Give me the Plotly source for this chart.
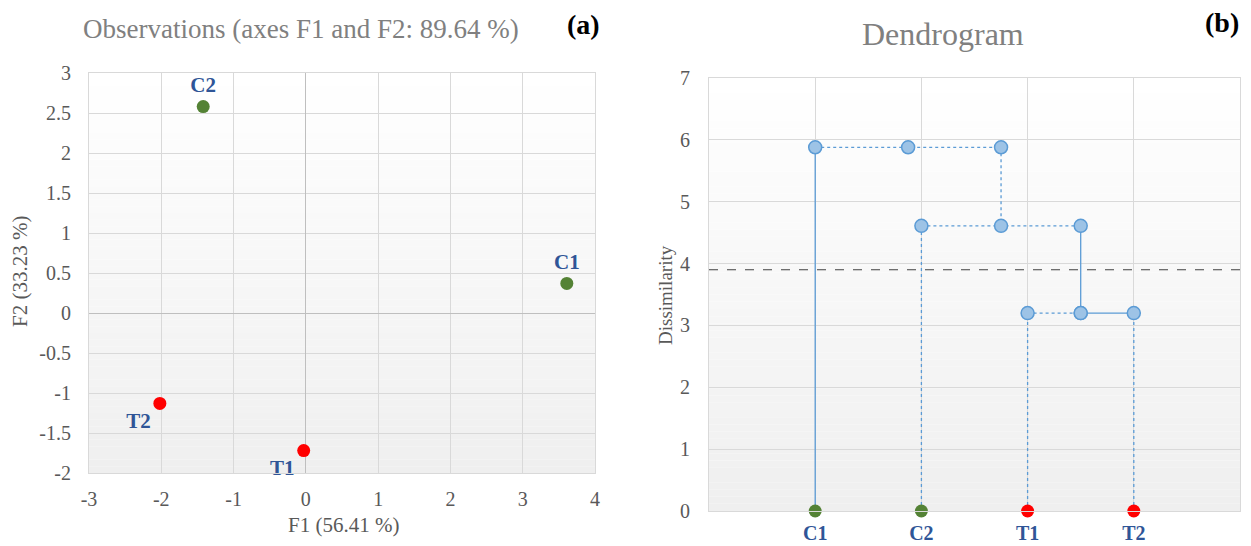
import plotly.graph_objects as go

# ---------------- data ----------------
obs_names = ["C1", "C2", "T1", "T2"]
obs_f1 = [3.61, -1.42, -0.03, -2.02]
obs_f2 = [0.37, 2.58, -1.72, -1.13]
obs_group = ["C", "C", "T", "T"]

leaf_names = ["C1", "C2", "T1", "T2"]
leaf_pos = [1, 2, 3, 4]
merge_t1t2 = 3.20
merge_c2 = 4.61
merge_c1 = 5.88
threshold = 3.90

f1_ticks = [-3, -2, -1, 0, 1, 2, 3, 4]
f1_ticktext = ["-3", "-2", "-1", "0", "1", "2", "3", "4"]
f2_ticks = [-2, -1.5, -1, -0.5, 0, 0.5, 1, 1.5, 2, 2.5, 3]
f2_ticktext = ["-2", "-1.5", "-1", "-0.5", "0", "0.5", "1", "1.5", "2", "2.5", "3"]
dis_ticks = [0, 1, 2, 3, 4, 5, 6, 7]

# ---------------- styles ----------------
SERIF = "Times New Roman, Liberation Serif, Tinos, DejaVu Serif, serif"
GREEN = "#548235"
RED = "#FF0000"
LBLUE = "#2F5597"
LINE = "#5B9BD5"
MFILL = "#9DC3E6"
GRID = "#D9D9D9"
TICK = "#595959"
col = {"C": GREEN, "T": RED}

fig = go.Figure()

# ---------- (a) scatter ----------
pos_map = {"C1": "top center", "C2": "top center", "T1": "bottom left", "T2": "bottom left"}
for g in ["C", "T"]:
    idx = [i for i, v in enumerate(obs_group) if v == g]
    fig.add_trace(go.Scatter(
        x=[obs_f1[i] for i in idx], y=[obs_f2[i] for i in idx],
        mode="markers+text",
        text=[obs_names[i] for i in idx],
        textposition=[pos_map[obs_names[i]] for i in idx],
        textfont=dict(family=SERIF, size=21, color=LBLUE, weight="bold"),
        marker=dict(color=col[g], size=13),
        xaxis="x", yaxis="y", showlegend=False, cliponaxis=False))

# ---------- (b) dendrogram ----------
p1, p2, p3, p4 = leaf_pos
n_t = (p3 + p4) / 2
n_c2 = (p2 + n_t) / 2
n_c1 = (p1 + n_c2) / 2

def seg(xs, ys, dash, markers):
    fig.add_trace(go.Scatter(
        x=xs, y=ys, mode="lines+markers" if markers else "lines",
        line=dict(color=LINE, width=1.3, dash=dash),
        marker=dict(size=13, color=MFILL, line=dict(color=LINE, width=1.5)),
        xaxis="x2", yaxis="y2", showlegend=False, cliponaxis=False))

seg([p1, p1], [0, merge_c1], "solid", False)
seg([p2, p2], [0, merge_c2], "dot", False)
seg([p3, p3], [0, merge_t1t2], "dot", False)
seg([p4, p4], [0, merge_t1t2], "dot", False)
seg([n_c2, n_c2], [merge_c1, merge_c2], "dot", False)
seg([n_t, n_t], [merge_c2, merge_t1t2], "solid", False)
seg([p1, n_c1, n_c2], [merge_c1] * 3, "dot", True)
seg([p2, n_c2, n_t], [merge_c2] * 3, "dot", True)
seg([p3, n_t], [merge_t1t2] * 2, "dot", True)
seg([n_t, p4], [merge_t1t2] * 2, "solid", True)

fig.add_trace(go.Scatter(
    x=[0, 5], y=[threshold, threshold], mode="lines",
    line=dict(color="#404040", width=1.2, dash="dash"),
    xaxis="x2", yaxis="y2", showlegend=False, cliponaxis=False))

fig.add_trace(go.Scatter(
    x=leaf_pos, y=[0] * len(leaf_pos), mode="markers",
    marker=dict(size=13, color=[col[n[0]] for n in leaf_names]),
    xaxis="x2", yaxis="y2", showlegend=False, cliponaxis=False))

# ---------- gradient backgrounds ----------
shapes = []
N = 60
for ax in ["", "2"]:
    for k in range(N):
        t = (k + 0.5) / N
        v = int(round(239 + (255 - 239) * t))
        shapes.append(dict(type="rect", xref=f"x{ax} domain", yref=f"y{ax} domain",
                           x0=0, x1=1, y0=k / N, y1=(k + 1) / N,
                           fillcolor=f"rgb({v},{v},{v})", line=dict(width=0),
                           layer="below"))

def axis_common(size=20, color=TICK):
    return dict(showgrid=True, gridcolor=GRID, gridwidth=1, showline=True,
                linecolor=GRID, linewidth=1, mirror=True, ticks="", automargin=False,
                tickfont=dict(family=SERIF, size=size, color=color))

W, H = 1251, 546

def ann(text, x, y, size, color, angle=0):
    return dict(text=text, x=x / W, y=1 - y / H, xref="paper", yref="paper",
                xanchor="center", yanchor="middle", showarrow=False, textangle=angle,
                font=dict(family=SERIF, size=size, color=color))

fig.update_layout(
    width=W, height=H,
    margin=dict(l=0, r=0, t=0, b=0, autoexpand=False),
    paper_bgcolor="white", plot_bgcolor="rgba(0,0,0,0)",
    font=dict(family=SERIF),
    shapes=shapes,
    xaxis=dict(domain=[89 / W, 595 / W], range=[-3, 4], tickvals=f1_ticks, ticktext=f1_ticktext,
               zeroline=True, zerolinecolor="#BFBFBF", zerolinewidth=1,
               ticklabelstandoff=8, anchor="y", **axis_common()),
    yaxis=dict(domain=[1 - 473 / H, 1 - 73 / H], range=[-2, 3], tickvals=f2_ticks,
               ticktext=f2_ticktext,
               zeroline=True, zerolinecolor="#BFBFBF", zerolinewidth=1,
               ticklabelstandoff=13, anchor="x", **axis_common()),
    xaxis2=dict(domain=[709 / W, 1240 / W], range=[0, 5], tickvals=leaf_pos,
                ticktext=[f"<b>{n}</b>" for n in leaf_names], zeroline=False,
                anchor="y2", ticklabelstandoff=4, **axis_common(20, LBLUE)),
    yaxis2=dict(domain=[1 - 511 / H, 1 - 78 / H], range=[0, 7], tickvals=dis_ticks,
                zeroline=False, anchor="x2", ticklabelstandoff=14, **axis_common()),
    annotations=[
        ann("Observations (axes F1 and F2: 89.64 %)", 301, 29, 27, "#808080"),
        ann("<b>(a)</b>", 583, 25, 28, "black"),
        ann("Dendrogram", 943, 34, 32, "#808080"),
        ann("<b>(b)</b>", 1222, 23, 28, "black"),
        ann("F1 (56.41 %)", 343, 525, 21, TICK),
        ann("F2 (33.23 %)", 20, 272, 21, TICK, -90),
        ann("Dissimilarity", 665, 295, 19, TICK, -90),
    ],
)

fig.write_html("out.html")
